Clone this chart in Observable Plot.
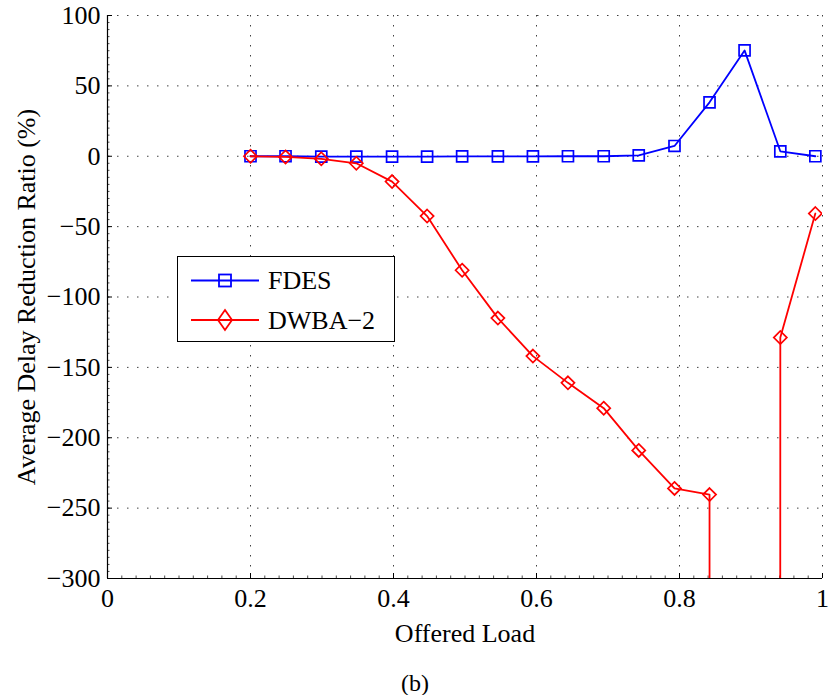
<!DOCTYPE html>
<html>
<head>
<meta charset="utf-8">
<script src="https://cdn.jsdelivr.net/npm/d3@7"></script>
<script src="https://cdn.jsdelivr.net/npm/@observablehq/plot@0.6"></script>
<style>
  body { margin: 0; background: #fff; }
  #wrap { position: relative; width: 830px; font-family: "Liberation Serif", "Times New Roman", serif; }
  #legend { position: absolute; left: 177px; top: 256px; width: 218px; height: 86px; border: 1.2px solid #000; background: #fff; box-sizing: border-box; }
  #legend svg { position: absolute; left: -1px; top: -1px; }
  .lgtext { position: absolute; left: 90px; font-size: 26px; line-height: 26px; color: #000; white-space: nowrap; }
  #caption { text-align: center; font-size: 24px; line-height: 24px; margin-top: 16px; color: #000; }
</style>
</head>
<body>
<div id="wrap">
  <div id="chart"></div>
  <div id="legend">
    <svg width="218" height="86">
      <line x1="14" x2="82" y1="24.5" y2="24.5" stroke="#0000ff" stroke-width="1.8"/>
      <rect x="42" y="18.5" width="12" height="12" fill="none" stroke="#0000ff" stroke-width="1.8"/>
      <line x1="14" x2="82" y1="64" y2="64" stroke="#ff0000" stroke-width="1.8"/>
      <path d="M48,54 L55,64 L48,74 L41,64 Z" fill="none" stroke="#ff0000" stroke-width="1.8"/>
    </svg>
    <div class="lgtext" style="top:11px">FDES</div>
    <div class="lgtext" style="top:51px">DWBA−2</div>
  </div>
  <div id="caption">(b)</div>
</div>
<script>
// Offered load (x) for each measured point
const load = [0.2, 0.249, 0.299, 0.348, 0.398, 0.447, 0.496, 0.546, 0.595, 0.644, 0.694, 0.743, 0.793, 0.842, 0.891, 0.941, 0.99];
// Average delay reduction ratio (%)
const fdes = [0, 0, -0.3, -0.2, -0.2, -0.2, -0.1, -0.1, -0.1, 0, 0, 0.6, 7.3, 38.3, 75.2, 3.5, 0];
// DWBA-2: the point at ~0.89 lies far below the plotted range
const dwba2 = [0, -0.5, -1.8, -5, -18, -42.5, -81, -115, -142, -161, -179, -209, -236, -240.4, -100000, -128.8, -40.7];

const seriesNames = ["FDES", "DWBA−2"];
const xTicks = [0, 0.2, 0.4, 0.6, 0.8, 1];
const yTicks = [-300, -250, -200, -150, -100, -50, 0, 50, 100];
const xMinor = d3.range(0, 1.0001, 0.02);
const yMinor = d3.range(-300, 100.001, 5);

const fdesData = load.map((x, i) => ({x, y: fdes[i], s: seriesNames[0]}));
const dwbaData = load.map((x, i) => ({x, y: dwba2[i], s: seriesNames[1]}));

const chart = Plot.plot({
  width: 830,
  height: 655,
  marginLeft: 107,
  marginRight: 8,
  marginTop: 15,
  marginBottom: 77,
  style: {fontFamily: "'Liberation Serif', 'Times New Roman', serif", fontSize: "26px", color: "#000", background: "#fff", overflow: "visible"},
  x: {domain: [0, 1]},
  y: {domain: [-300, 100]},
  marks: [
    Plot.gridX(xTicks, {stroke: "#000", strokeOpacity: 0.75, strokeDasharray: "1.5,8.5", strokeWidth: 1}),
    Plot.gridY(yTicks, {stroke: "#000", strokeOpacity: 0.75, strokeDasharray: "1.5,8.5", strokeWidth: 1}),
    Plot.axisX(xMinor, {tickSize: -2.5, text: null, label: null, strokeOpacity: 0.7}),
    Plot.axisY(yMinor, {tickSize: -2.5, text: null, label: null, strokeOpacity: 0.7}),
    Plot.axisX(xTicks, {tickSize: -5, text: null, label: null}),
    Plot.axisY(yTicks, {tickSize: -5, text: null, label: null}),
    Plot.axisX(xTicks, {tickSize: 0, tickPadding: 10, tickFormat: d => String(d), label: "Offered Load", labelAnchor: "center", labelOffset: 63, labelArrow: "none", fontSize: 26}),
    Plot.axisY(yTicks, {tickSize: 0, tickPadding: 7, tickFormat: d => d < 0 ? "−" + Math.abs(d) : String(d), label: "Average Delay Reduction Ratio (%)", labelAnchor: "center", labelOffset: 91, labelArrow: "none", fontSize: 26}),
    Plot.ruleX([0], {stroke: "#000", strokeWidth: 1.2}),
    Plot.ruleY([-300], {stroke: "#000", strokeWidth: 1.2}),
    Plot.line(fdesData, {x: "x", y: "y", stroke: "#0000ff", strokeWidth: 1.8, clip: true}),
    Plot.dot(fdesData, {x: "x", y: "y", symbol: "square2", r: 7, stroke: "#0000ff", strokeWidth: 1.7, fill: "none", clip: true}),
    Plot.line(dwbaData, {x: "x", y: "y", stroke: "#ff0000", strokeWidth: 1.8, clip: true}),
    Plot.dot(dwbaData, {x: "x", y: "y", symbol: "diamond2", r: 5.9, stroke: "#ff0000", strokeWidth: 1.7, fill: "none", clip: true})
  ]
});
document.getElementById("chart").appendChild(chart);
</script>
</body>
</html>
